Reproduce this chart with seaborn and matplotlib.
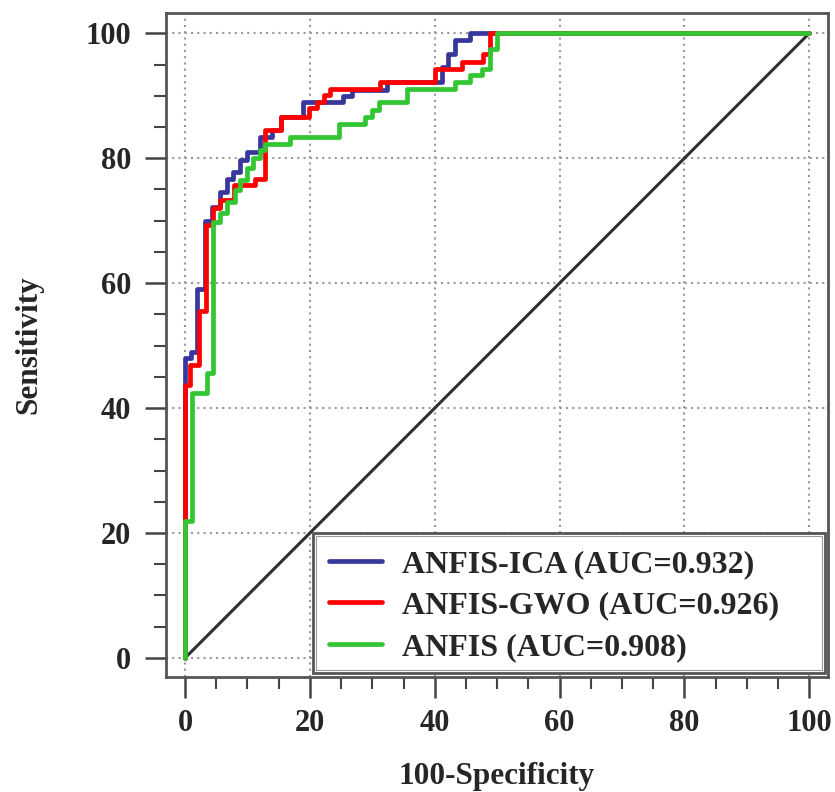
import matplotlib
matplotlib.use("Agg")
import matplotlib.pyplot as plt
import seaborn as sns
import pandas as pd
from matplotlib.ticker import MultipleLocator
from matplotlib.patches import Rectangle

# ---- data (ROC vertices) ----
fpr_ica = [0, 0, 1.0, 1.0, 1.9, 1.9, 3.2, 3.2, 4.3, 4.3, 5.6, 5.6, 6.7, 6.7, 7.7, 7.7,
           8.8, 8.8, 9.9, 9.9, 12.0, 12.0, 14.0, 14.0, 15.4, 15.4, 18.9, 18.9, 25.3, 25.3,
           26.7, 26.7, 32.4, 32.4, 41.1, 41.1, 42.2, 42.2, 43.3, 43.3, 45.7, 45.7, 100]
tpr_ica = [0, 48.0, 48.0, 49.0, 49.0, 59.0, 59.0, 70.0, 70.0, 72.2, 72.2, 74.6, 74.6, 76.7,
           76.7, 77.8, 77.8, 79.7, 79.7, 81.0, 81.0, 83.4, 83.4, 84.5, 84.5, 86.6, 86.6, 89.0,
           89.0, 90.0, 90.0, 91.0, 91.0, 92.2, 92.2, 94.6, 94.6, 96.7, 96.7, 98.9, 98.9, 100, 100]

fpr_gwo = [0, 0, 0.8, 0.8, 2.2, 2.2, 3.3, 3.3, 4.5, 4.5, 5.6, 5.6, 7.9, 7.9, 11.2, 11.2,
           12.8, 12.8, 15.4, 15.4, 19.8, 19.8, 21.1, 21.1, 22.2, 22.2, 23.2, 23.2, 31.2, 31.2,
           40.1, 40.1, 44.3, 44.3, 47.8, 47.8, 48.9, 48.9, 100]
tpr_gwo = [0, 43.7, 43.7, 46.9, 46.9, 55.5, 55.5, 69.3, 69.3, 72.0, 72.0, 73.3, 73.3, 75.7,
           75.7, 76.7, 76.7, 84.5, 84.5, 86.6, 86.6, 88.0, 88.0, 89.0, 89.0, 90.1, 90.1, 91.1,
           91.1, 92.2, 92.2, 94.3, 94.3, 95.4, 95.4, 96.7, 96.7, 100, 100]

fpr_anfis = [0, 0, 1.1, 1.1, 3.5, 3.5, 4.5, 4.5, 5.6, 5.6, 6.7, 6.7, 8.0, 8.0, 8.8, 8.8,
             9.9, 9.9, 10.9, 10.9, 12.0, 12.0, 12.8, 12.8, 16.8, 16.8, 24.6, 24.6, 28.8, 28.8,
             29.9, 29.9, 31.0, 31.0, 35.5, 35.5, 43.3, 43.3, 45.7, 45.7, 47.5, 47.5, 48.9, 48.9,
             50.0, 50.0, 100]
tpr_anfis = [0, 22.0, 22.0, 42.4, 42.4, 45.6, 45.6, 69.8, 69.8, 71.2, 71.2, 73.0, 73.0, 74.9,
             74.9, 76.5, 76.5, 78.4, 78.4, 80.0, 80.0, 81.3, 81.3, 82.3, 82.3, 83.4, 83.4, 85.5,
             85.5, 86.6, 86.6, 87.7, 87.7, 89.0, 89.0, 91.1, 91.1, 92.2, 92.2, 93.3, 93.3, 94.3,
             94.3, 97.5, 97.5, 100, 100]

labels = ["ANFIS-ICA (AUC=0.932)", "ANFIS-GWO (AUC=0.926)", "ANFIS (AUC=0.908)"]
colors = ["#38389c", "#ff0000", "#33c633"]
ref_x = [0, 100]
ref_y = [0, 100]
ticks = [0, 20, 40, 60, 80, 100]

# ---- style ----
sns.set_style("white")
plt.rcParams["font.family"] = ["Liberation Serif", "DejaVu Serif"]
plt.rcParams["font.weight"] = "bold"

W, H = 835, 792
fig = plt.figure(figsize=(W / 100, H / 100), dpi=100)
ax = fig.add_axes([165.7 / W, 1 - 677 / H, (828 - 165.7) / W, (677 - 13.3) / H])

# grid
for t in ticks:
    ax.axvline(t, color="#999999", lw=1.5, ls=(0, (1, 2)), zorder=0)
    ax.axhline(t, color="#999999", lw=1.5, ls=(0, (1, 2)), zorder=0)

# diagonal reference
sns.lineplot(x=ref_x, y=ref_y, ax=ax, color="#303030", lw=2.2, sort=False,
             estimator=None, zorder=2)

series = [(fpr_ica, tpr_ica), (fpr_gwo, tpr_gwo), (fpr_anfis, tpr_anfis)]
for (fx, ty), lab, col in zip(series, labels, colors):
    df = pd.DataFrame({"fpr": fx, "tpr": ty})
    sns.lineplot(data=df, x="fpr", y="tpr", ax=ax, color=col, lw=3.4, sort=False,
                 estimator=None, label=lab, zorder=3)

ax.set_xlim(-3.1, 103.0)
ax.set_ylim(-3.05, 103.2)
ax.xaxis.set_major_locator(MultipleLocator(20))
ax.yaxis.set_major_locator(MultipleLocator(20))
ax.xaxis.set_minor_locator(MultipleLocator(5))
ax.yaxis.set_minor_locator(MultipleLocator(5))
ax.tick_params(which="major", direction="out", length=15, width=1.8, color="#444444",
               labelsize=22, pad=8, bottom=True, left=True)
ax.tick_params(axis="y", which="major", pad=10)
ax.tick_params(which="minor", direction="out", length=8.5, width=1.5, color="#444444",
               bottom=True, left=True)
for lbl in ax.get_xticklabels() + ax.get_yticklabels():
    lbl.set_fontweight("bold")

for s in ax.spines.values():
    s.set_color("#555555")
    s.set_linewidth(2.0)

ax.set_xlabel("100-Specificity", fontsize=22.5, fontweight="bold")
ax.set_ylabel("Sensitivity", fontsize=22.5, fontweight="bold")
ax.xaxis.set_label_coords(0.5, -0.128)
ax.yaxis.set_label_coords(-0.184, 0.5)

# legend box (double border) drawn as patches in figure coordinates
x0, y0, x1, y1 = 313, 533, 825, 673
box_outer = Rectangle((x0 / W, 1 - y1 / H), (x1 - x0) / W, (y1 - y0) / H,
                      transform=fig.transFigure, facecolor="white",
                      edgecolor="#555555", lw=2.0, zorder=5, clip_on=False)
box_inner = Rectangle(((x0 + 3) / W, 1 - (y1 - 3) / H), (x1 - x0 - 6) / W,
                      (y1 - y0 - 6) / H, transform=fig.transFigure,
                      facecolor="none", edgecolor="#999999", lw=0.8, zorder=5,
                      clip_on=False)
ax.add_artist(box_outer)
ax.add_artist(box_inner)

leg = ax.legend(loc="upper left", bbox_to_anchor=(329 / W, 1 - 550 / H),
                bbox_transform=fig.transFigure, borderaxespad=0, borderpad=0,
                frameon=False, handlelength=1.66, handletextpad=0.62,
                labelspacing=0.37, prop={"size": 23, "weight": "bold"})
leg.set_zorder(6)
for h in leg.get_lines():
    h.set_linewidth(3.4)

fig.savefig("out.png", dpi=100)
